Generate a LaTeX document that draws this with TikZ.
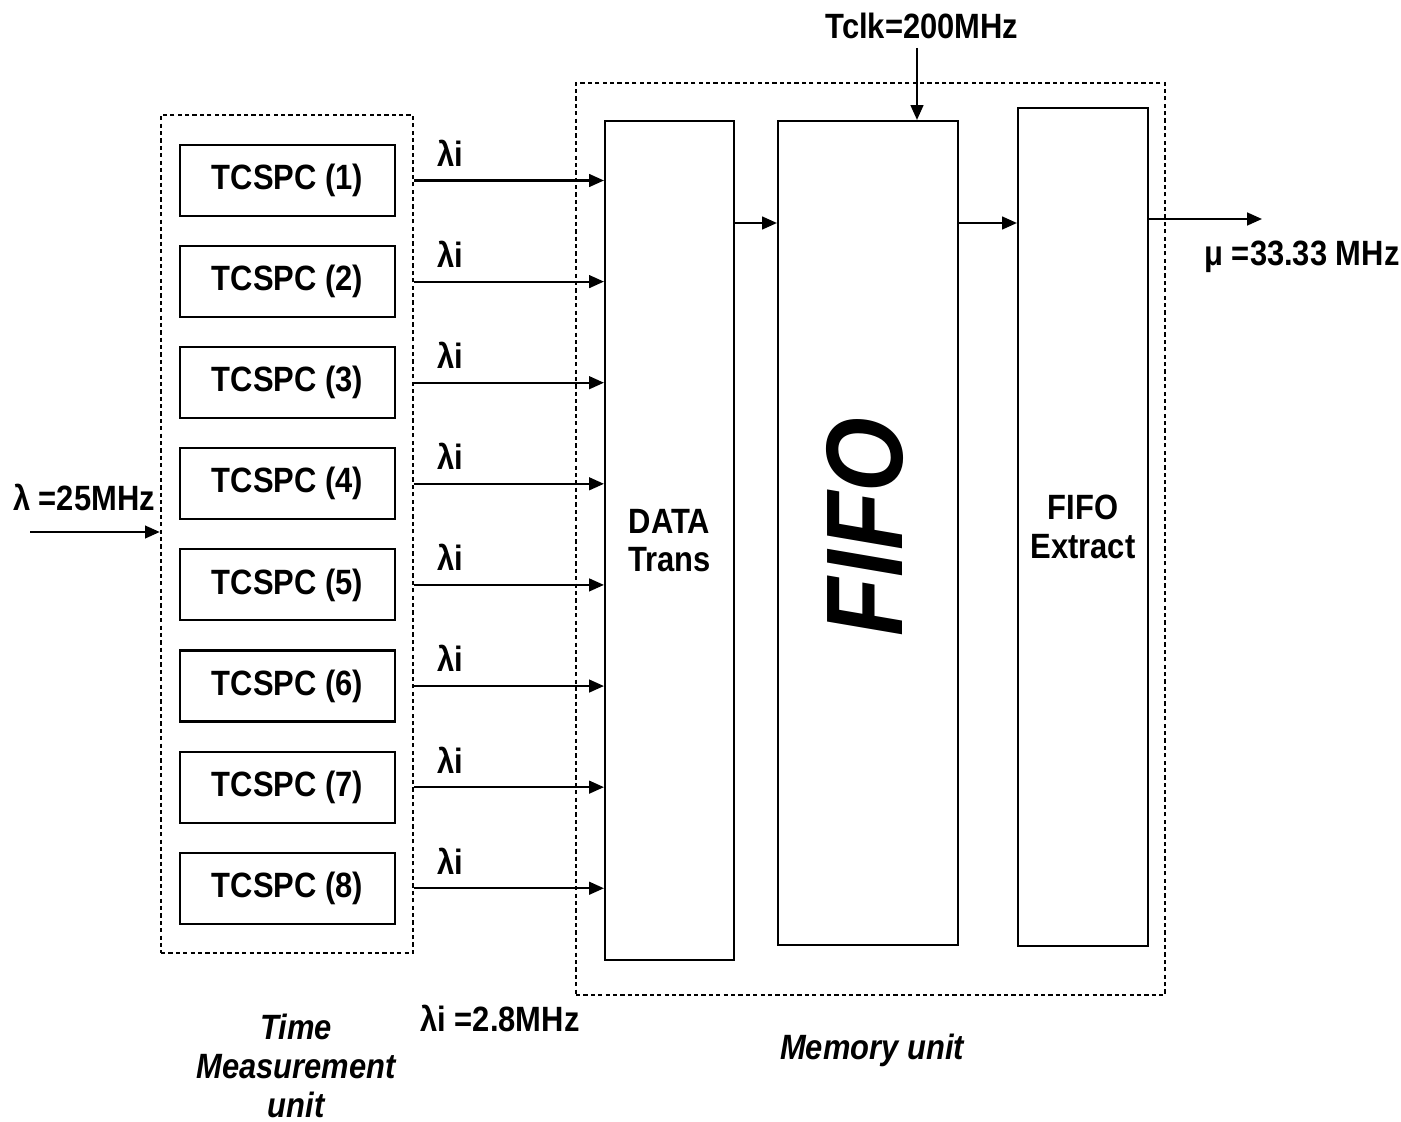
\documentclass[tikz,border=0pt]{standalone}
\usepackage{fontspec}
\setmainfont[FakeStretch=0.88]{Liberation Sans}
\usetikzlibrary{positioning,arrows.meta}

\tikzset{
  txt/.style={font=\bfseries\fontsize{10}{11}\selectfont},
  blk/.style={draw, line width=0.6pt, txt, minimum width=21.5mm, minimum height=7.1mm},
  memblk/.style={draw, line width=0.6pt, txt, align=center},
  unitbox/.style={draw, line width=0.7pt, dash pattern=on 1.2pt off 0.9pt},
  flow/.style={-{Triangle[length=4.2pt,width=3.6pt]}, line width=0.6pt},
  lbl/.style={txt, inner sep=0pt},
  unitlbl/.style={font=\bfseries\itshape\fontsize{10}{11}\selectfont, align=center, inner sep=0pt},
}

\begin{document}
\begin{tikzpicture}[x=0.1mm,y=-0.1mm]
    \useasboundingbox (0,0) rectangle (1401,1122);

    % Unidad de medida de tiempo
    \node[unitbox, minimum width=25.2mm, minimum height=83.8mm] (tmu) at (287,534) {};
    \node[blk] (t1) at (287.5,180.5) {TCSPC (1)};
    \foreach \i [remember=\i as \j (initially 1)] in {2,...,8}
        \node[blk, below=2.8mm of t\j] (t\i) {TCSPC (\i)};

    % Unidad de memoria
    \node[unitbox, minimum width=58.9mm, minimum height=91.2mm] (mem) at (870.5,539) {};
    \node[memblk, minimum width=12.9mm, minimum height=83.9mm] (dt) at (669.5,540.5) {DATA\\Trans};
    \node[memblk, minimum width=18mm, minimum height=82.4mm] (fifo) at (868,533) {};
    \node[rotate=90, font=\bfseries\itshape\fontsize{31}{31}\selectfont] (fifotxt) at (865,527) {FIFO};
    \node[memblk, minimum width=13mm, minimum height=83.8mm] (fe) at (1083,527) {FIFO\\Extract};

    % Entrada
    \coordinate (lin) at (30,532);
    \draw[flow] (lin) -- (lin -| tmu.west);
    \node[lbl] (lamin) at (84,497) {λ =25MHz};

    % Salidas TCSPC
    \foreach \i in {1,...,8}
        \draw[flow] (t\i.east -| tmu.east) -- (t\i.east -| dt.west)
            node[lbl, pos=0.19, above=1.3mm] {λi};

    % Bus interno y salida
    \coordinate (bus) at (0,223);
    \coordinate (out) at (1262,219);
    \draw[flow] (bus -| dt.east) -- (bus -| fifo.west);
    \draw[flow] (bus -| fifo.east) -- (bus -| fe.west);
    \draw[flow] (out -| fe.east) -- (out);
    \node[lbl] (mu) at (1302,257) {μ =33.33 MHz};

    % Reloj
    \node[lbl] (tclk) at (922,26) {Tclk=200MHz};
    \coordinate (clk) at (917,48);
    \draw[flow] (clk) -- (clk |- fifo.north);

    \node[lbl] (lami) at (500,1018) {λi =2.8MHz};
    \node[unitlbl] (tmulbl) at (296,1066) {Time\\Measurement\\unit};
    \node[unitlbl] (memlbl) at (872,1050) {Memory unit};
\end{tikzpicture}
\end{document}
